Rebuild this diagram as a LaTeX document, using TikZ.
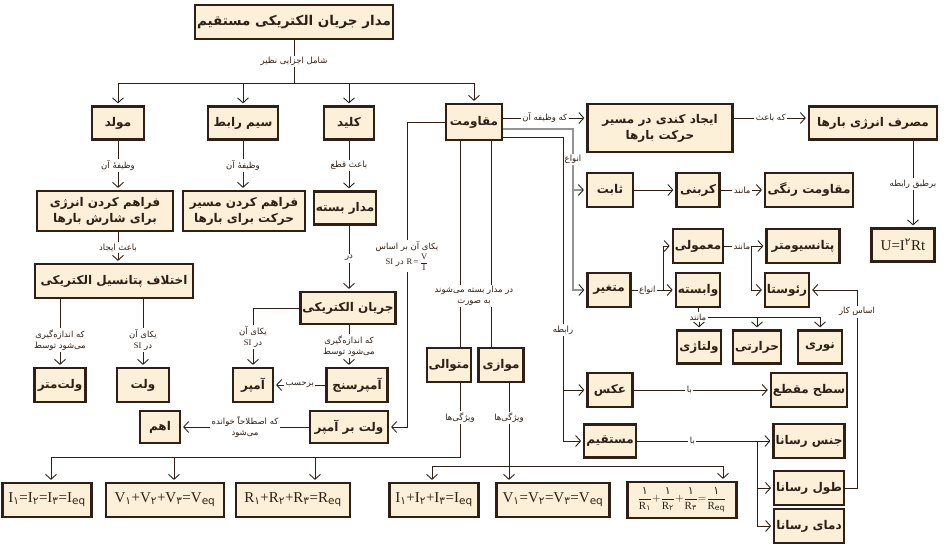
\documentclass[tikz,border=0pt]{standalone}
\usepackage{amsmath}
\usepackage{fontspec}
\setmainfont{Liberation Serif}
\newfontfamily\fafont[Script=Arabic]{DejaVu Sans}
\TeXXeTstate=1
\usetikzlibrary{arrows.meta}
\definecolor{boxfill}{HTML}{FDF0D9}
\definecolor{ink}{HTML}{2E2016}
\newcommand{\fatxt}[1]{{\fafont\beginR #1\endR}}
\newcommand{\subfa}[1]{\textsubscript{\fafont #1}}

\begin{document}
\begin{tikzpicture}[x=1pt,y=-1pt,
   box/.style={draw=ink,line width=2.2pt,fill=boxfill,text=ink,inner xsep=2pt,inner ysep=3pt,
      minimum height=33pt,align=center,font=\fafont\bfseries\fontsize{12}{16}\selectfont},
   frm/.style={box,font=\rmfamily\fontsize{15}{17}\selectfont},
   ln/.style={draw=ink,line width=0.9pt},
   arr/.style={ln,-{Straight Barb[length=5pt,width=11pt]},shorten >=2pt},
   garr/.style={draw=gray!85,line width=1.6pt,-{Straight Barb[length=5pt,width=11pt,color=ink,line width=0.9pt]},shorten >=2pt},
   lbl/.style={fill=white,text=ink,inner sep=1.5pt,align=center,font=\fafont\fontsize{8.5}{11}\selectfont}]
\useasboundingbox (0,0) rectangle (946,549);

\node[box,minimum width=180,minimum height=34,font=\fafont\bfseries\fontsize{13.5}{16}\selectfont] (madarDC) at (294,22) {\fatxt{مدار جریان الکتریکی مستقیم}};

\node[box,minimum width=52] (mowled) at (118,123) {\fatxt{مولد}};
\node[box,minimum width=70] (sim) at (243,123) {\fatxt{سیم رابط}};
\node[box,minimum width=50] (kelid) at (349,123) {\fatxt{کلید}};
\node[box,minimum width=56,minimum height=36] (moqavemat) at (474,122) {\fatxt{مقاومت}};
\node[box,minimum width=145,minimum height=48] (kondi) at (660,128) {\fatxt{ایجاد کندی در مسیر}\\\fatxt{حرکت بارها}};
\node[box,minimum width=128] (masraf) at (873,123) {\fatxt{مصرف انرژی بارها}};

\node[box,minimum width=136,minimum height=40] (energy) at (105,211) {\fatxt{فراهم کردن انرژی}\\\fatxt{برای شارش بارها}};
\node[box,minimum width=122,minimum height=40] (masir) at (244,211) {\fatxt{فراهم کردن مسیر}\\\fatxt{حرکت برای بارها}};
\node[box,minimum width=56] (baste) at (345,208) {\fatxt{مدار بسته}};
\node[box,minimum width=158,minimum height=34] (ekhtelaf) at (114,281) {\fatxt{اختلاف پتانسیل الکتریکی}};
\node[box,minimum width=89,minimum height=32] (jaryan) at (348,308) {\fatxt{جریان الکتریکی}};

\node[box,minimum width=51,minimum height=34] (voltmetr) at (60,385) {\fatxt{ولت^^^^200cمتر}};
\node[box,minimum width=52,minimum height=34] (volt) at (143,385) {\fatxt{ولت}};
\node[box,minimum width=40,minimum height=34] (amper) at (253,385) {\fatxt{آمپر}};
\node[box,minimum width=61,minimum height=34] (ampersanj) at (357,385) {\fatxt{آمپرسنج}};
\node[box,minimum width=40,minimum height=32] (ohm) at (160,427) {\fatxt{اهم}};
\node[box,minimum width=78,minimum height=32] (voltamper) at (349,427) {\fatxt{ولت بر آمپر}};
\node[box,minimum width=41,minimum height=34] (motavali) at (449,365) {\fatxt{متوالی}};
\node[box,minimum width=45,minimum height=34] (movazi) at (501,365) {\fatxt{موازی}};

\node[frm,minimum width=89,minimum height=34] (f1) at (47,500) {I\subfa{۱}=I\subfa{۲}=I\subfa{۳}=I\subfa{eq}};
\node[frm,minimum width=118,minimum height=34] (f2) at (165,500) {V\subfa{۱}+V\subfa{۲}+V\subfa{۳}=V\subfa{eq}};
\node[frm,minimum width=114,minimum height=34] (f3) at (293,500) {R\subfa{۱}+R\subfa{۲}+R\subfa{۳}=R\subfa{eq}};
\node[frm,minimum width=89,minimum height=34] (f4) at (434,500) {I\subfa{۱}+I\subfa{۲}+I\subfa{۳}=I\subfa{eq}};
\node[frm,minimum width=113,minimum height=34] (f5) at (553,500) {V\subfa{۱}=V\subfa{۲}=V\subfa{۳}=V\subfa{eq}};
\node[frm,minimum width=109,minimum height=36,inner ysep=1pt,font=\rmfamily\fontsize{11}{13}\selectfont] (f6) at (682,500) {$\dfrac{\text{\fafont ۱}}{\text{R\subfa{۱}}}{+}\dfrac{\text{\fafont ۱}}{\text{R\subfa{۲}}}{+}\dfrac{\text{\fafont ۱}}{\text{R\subfa{۳}}}{=}\dfrac{\text{\fafont ۱}}{\text{R\subfa{eq}}}$};

\node[box,minimum width=46,minimum height=34] (sabet) at (610,190) {\fatxt{ثابت}};
\node[box,minimum width=43,minimum height=34] (karbani) at (698,190) {\fatxt{کربنی}};
\node[box,minimum width=88,minimum height=34] (rangi) at (809,190) {\fatxt{مقاومت رنگی}};
\node[box,minimum width=43,minimum height=34] (mamooli) at (698,246) {\fatxt{معمولی}};
\node[box,minimum width=73,minimum height=34] (potansio) at (803,246) {\fatxt{پتانسیومتر}};
\node[box,minimum width=43,minimum height=34] (motaghayer) at (609,290) {\fatxt{متغیر}};
\node[box,minimum width=43,minimum height=34] (vabaste) at (698,290) {\fatxt{وابسته}};
\node[box,minimum width=41,minimum height=34] (reosta) at (787,290) {\fatxt{رئوستا}};
\node[box,minimum width=43,minimum height=33] (voltaji) at (699,347) {\fatxt{ولتاژی}};
\node[box,minimum width=41,minimum height=33] (harrati) at (757,347) {\fatxt{حرارتی}};
\node[box,minimum width=44,minimum height=33] (noori) at (820,347) {\fatxt{نوری}};
\node[box,minimum width=45,minimum height=34] (aks) at (610,390) {\fatxt{عکس}};
\node[box,minimum width=68,minimum height=34] (sath) at (809,390) {\fatxt{سطح مقطع}};
\node[box,minimum width=45,minimum height=33] (mostaqim) at (610,441) {\fatxt{مستقیم}};
\node[box,minimum width=68,minimum height=34] (jens) at (809,441) {\fatxt{جنس رسانا}};
\node[box,minimum width=68,minimum height=34] (tool) at (809,488) {\fatxt{طول رسانا}};
\node[box,minimum width=68,minimum height=34] (dama) at (809,526) {\fatxt{دمای رسانا}};
\node[frm,minimum width=63,minimum height=33] (energyU) at (903,245) {U=I\textsuperscript{\fafont ۲}Rt};

\coordinate (hub) at (294,83);
\coordinate (xl) at (407,0);
\coordinate (xs) at (460,0);
\coordinate (xp) at (491,0);
\coordinate (xq) at (509,0);
\coordinate (xm) at (913,0);
\coordinate (r1) at (0,118);
\coordinate (g1) at (573,129);
\coordinate (d1) at (563,137);
\coordinate (a1) at (51,457);
\coordinate (a2) at (174,457);
\coordinate (a3) at (315,457);
\coordinate (b1) at (432,466);
\coordinate (b2) at (509,466);
\coordinate (b3) at (723,466);
\coordinate (v1) at (663,290);
\coordinate (v2) at (751,246);
\coordinate (v3) at (698,317);
\coordinate (v4) at (757,441);
\coordinate (v5) at (857,488);

\draw[ln] (madarDC) -- node[lbl] (lshamel) {\fatxt{شامل اجزایی نظیر}} (hub);
\draw[ln] (mowled |- hub) -- (moqavemat |- hub);
\foreach \n in {mowled,sim,kelid,moqavemat} \draw[arr] (\n |- hub) -- (\n);

\draw[arr] (mowled) -- node[lbl] (lvazife1) {\fatxt{وظیفهٔ آن}} (mowled |- energy.north);
\draw[arr] (sim) -- node[lbl] (lvazife2) {\fatxt{وظیفهٔ آن}} (sim |- masir.north);
\draw[arr] (kelid) -- node[lbl] (lqat) {\fatxt{باعث قطع}} (kelid |- baste.north);
\draw[arr] (mowled |- energy.south) -- node[lbl] (lijad) {\fatxt{باعث ایجاد}} (mowled |- ekhtelaf.north);
\draw[arr] (kelid |- baste.south) -- node[lbl] (ldar) {\fatxt{در}} (kelid |- jaryan.north);

\draw[arr] (voltmetr |- ekhtelaf.south) -- node[lbl,pos=0.6] (lsanj1) {\fatxt{که اندازه^^^^200cگیری}\\\fatxt{می^^^^200cشود توسط}} (voltmetr);
\draw[arr] (volt |- ekhtelaf.south) -- node[lbl,pos=0.6] (lyeka1) {\fatxt{یکای آن}\\\fatxt{در \beginL{\rmfamily SI}\endL}} (volt);
\draw[arr] (jaryan.west) -| node[lbl,pos=0.75] (lyeka2) {\fatxt{یکای آن}\\\fatxt{در \beginL{\rmfamily SI}\endL}} (amper);
\draw[arr] (kelid |- jaryan.south) -- node[lbl] (lsanj2) {\fatxt{که اندازه^^^^200cگیری}\\\fatxt{می^^^^200cشود توسط}} (kelid |- ampersanj.north);
\draw[arr] (ampersanj) -- node[lbl] (lbarhasab) {\fatxt{برحسب}} (amper);
\draw[arr] (moqavemat.west) -- (moqavemat.west -| xl) -- node[lbl,pos=0.44] (lyekaR) {\fatxt{یکای آن بر اساس}\\[1pt]{\rmfamily SI} \fatxt{در} {\rmfamily R\,=\,$\dfrac{\text{\rmfamily V}}{\text{\rmfamily I}}$}} (xl |- voltamper) -- (voltamper);
\draw[arr] (voltamper) -- node[lbl] (lestelah) {\fatxt{که اصطلاحاً خوانده}\\\fatxt{می^^^^200cشود}} (ohm);

\draw[ln] (moqavemat.south -| xs) -- (motavali.north -| xs);
\draw[ln] (moqavemat.south -| xp) -- (movazi.north -| xp);
\node[lbl,inner sep=1pt] (lsurat) at (474,296) {\fatxt{در مدار بسته می^^^^200cشوند}\\\fatxt{به صورت}};
\draw[ln] (motavali.south -| xs) -- node[lbl,pos=0.47] (lvizhe1) {\fatxt{ویژگی^^^^200cها}} (xs |- a1) -- (a1);
\foreach \a/\f in {a1/f1,a2/f2,a3/f3} \draw[arr] (\a) -- (\a |- \f.north);
\draw[ln] (movazi.south -| xq) -- node[lbl,pos=0.42] (lvizhe2) {\fatxt{ویژگی^^^^200cها}} (b2);
\draw[ln] (b1) -- (b3);
\foreach \b/\f in {b1/f4,b2/f5,b3/f6} \draw[arr] (\b) -- (\b |- \f.north);

\draw[arr] (moqavemat.east |- r1) -- node[lbl] (lvazife3) {\fatxt{که وظیفه آن}} (kondi.west |- r1);
\draw[arr] (kondi.east |- r1) -- node[lbl] (lbaes) {\fatxt{که باعث}} (masraf.west |- r1);
\draw[arr] (masraf.south -| xm) -- node[lbl] (ltabq) {\fatxt{برطبق رابطه}} (energyU.north -| xm);

\draw[garr] (moqavemat.east |- g1) -- (g1) -- node[lbl,pos=0.19] (lanva1) {\fatxt{انواع}} (g1 |- motaghayer) -- (motaghayer);
\draw[garr] (g1 |- sabet) -- (sabet);
\draw[arr] (moqavemat.east |- d1) -- (d1) -- node[lbl,pos=0.635] (lrabete) {\fatxt{رابطه}} (d1 |- mostaqim) -- (mostaqim);
\draw[arr] (d1 |- aks) -- (aks);

\draw[arr] (sabet) -- (karbani);
\draw[arr] (karbani) -- node[lbl] (lmanand1) {\fatxt{مانند}} (rangi);
\draw[ln] (motaghayer) -- node[lbl] (lanva2) {\fatxt{انواع}} (v1);
\draw[arr] (v1) -- (vabaste);
\draw[arr] (v1) |- (mamooli);
\draw[arr] (mamooli) -- node[lbl,pos=0.43] (lmanand2) {\fatxt{مانند}} (potansio);
\draw[arr] (v2) |- (reosta);
\draw[ln] (vabaste) -- (v3) -- (v3 -| noori);
\foreach \n in {voltaji,harrati,noori} \draw[arr] (v3 -| \n) -- (\n);
\node[lbl] (lmanand3) at (v3) {\fatxt{مانند}};

\draw[arr] (aks) -- node[lbl,pos=0.41] (lba1) {\fatxt{با}} (sath);
\draw[arr] (mostaqim) -- node[lbl,pos=0.41] (lba2) {\fatxt{با}} (jens);
\draw[arr] (v4) |- (tool);
\draw[arr] (v4) |- (dama);
\draw[arr] (tool) -- (v5) -- node[lbl,pos=0.89] (lasas) {\fatxt{اساس کار}} (v5 |- reosta) -- (reosta);
\end{tikzpicture}
\end{document}
